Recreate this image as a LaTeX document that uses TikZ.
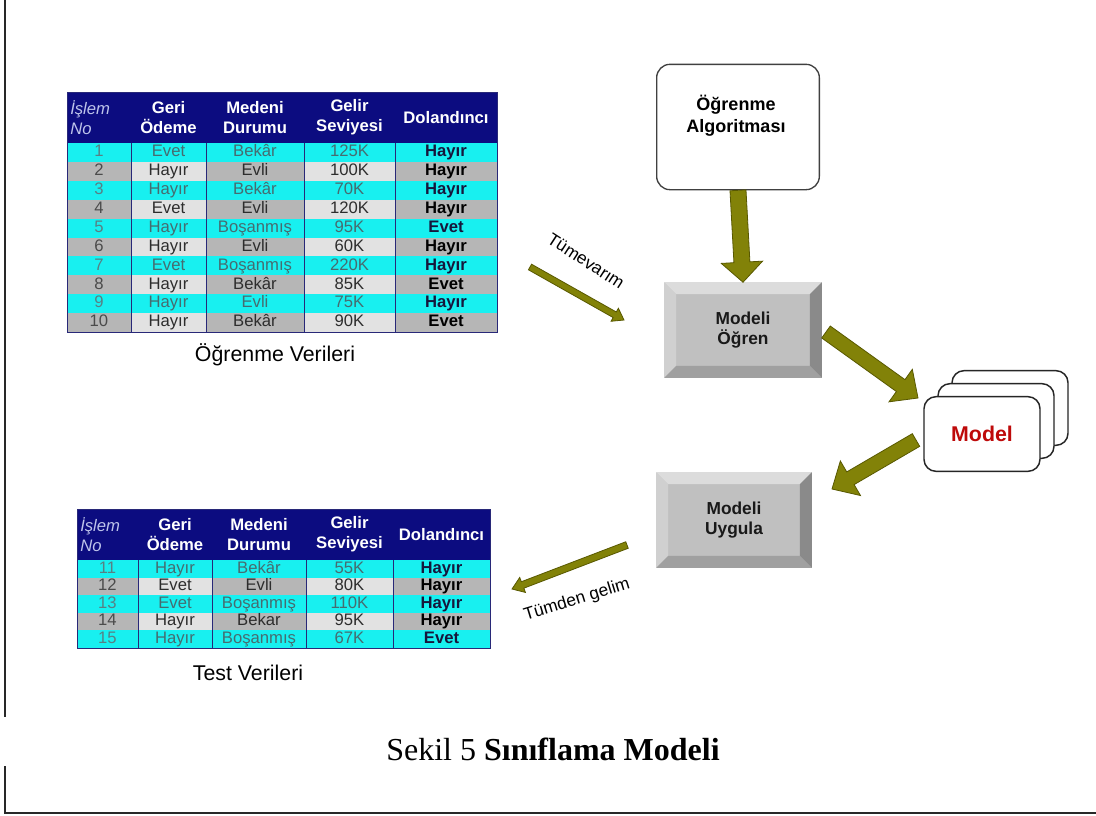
\documentclass[tikz,border=0pt]{standalone}
\usepackage{fontspec}
\setmainfont{Liberation Serif}
\newfontfamily\arial{Liberation Sans}
\usetikzlibrary{calc}

\definecolor{navyhead}{RGB}{12,12,128}
\definecolor{rulenavy}{RGB}{40,40,120}
\definecolor{cyanrow}{RGB}{24,240,240}
\definecolor{graydk}{RGB}{182,182,182}
\definecolor{graylt}{RGB}{226,226,226}
\definecolor{txtcyan}{RGB}{70,108,112}
\definecolor{numcyan}{RGB}{88,128,132}
\definecolor{boldcyan}{RGB}{22,22,60}
\definecolor{txtgray}{RGB}{45,45,45}
\definecolor{numgray}{RGB}{75,75,75}
\definecolor{headital}{RGB}{190,196,235}
\definecolor{olivefill}{RGB}{130,130,8}
\definecolor{olivedraw}{RGB}{88,88,0}
\definecolor{modelred}{RGB}{190,10,10}
\definecolor{bevtop}{RGB}{220,220,220}
\definecolor{bevleft}{RGB}{208,208,208}
\definecolor{bevface}{RGB}{192,192,192}
\definecolor{bevright}{RGB}{138,138,138}
\definecolor{bevbot}{RGB}{160,160,160}
\definecolor{framegray}{RGB}{40,40,40}

% table with navy header, alternating cyan / grey rows
\newcommand\datatable[2]{%
  \pgfmathsetmacro\cxA{(\colA+\colB)/2}%
  \pgfmathsetmacro\cxB{(\colB+\colC)/2}%
  \pgfmathsetmacro\cxC{(\colC+\colD)/2}%
  \pgfmathsetmacro\cxD{(\colD+\colE)/2}%
  \pgfmathsetmacro\cxE{(\colE+\colF)/2}%
  \pgfmathsetmacro\yhm{(\ytop+\yhead)/2}%
  \fill[navyhead] (\colA,\ytop) rectangle (\colF,\yhead);
  \node[hdital] (#1-h1) at (\colA+3,\yhm) {İşlem\\No};
  \node[hdtext] (#1-h2) at (\cxB,\yhm) {Geri\\Ödeme};
  \node[hdtext] (#1-h3) at (\cxC,\yhm) {Medeni\\Durumu};
  \node[hdtext] (#1-h4) at (\cxD,\yhm) {Gelir\\Seviyesi};
  \node[hdtext] (#1-h5) at (\cxE,\yhm) {Dolandıncı};
  \foreach \vA/\vB/\vC/\vD/\vE [count=\i] in {#2} {
    \pgfmathsetmacro\ya{\yhead+(\i-1)*\rh}
    \pgfmathsetmacro\yb{\ya+\rh}
    \pgfmathsetmacro\ym{\ya+\rh/2}
    \ifodd\i\relax
      \fill[cyanrow] (\colA,\ya) rectangle (\colF,\yb);
      \def\tnum{numcyan}\def\tcol{txtcyan}\def\tbold{boldcyan}
    \else
      \fill[graydk] (\colA,\ya) rectangle (\colB,\yb);
      \fill[graylt] (\colB,\ya) rectangle (\colC,\yb);
      \fill[graydk] (\colC,\ya) rectangle (\colD,\yb);
      \fill[graylt] (\colD,\ya) rectangle (\colE,\yb);
      \fill[graydk] (\colE,\ya) rectangle (\colF,\yb);
      \def\tnum{numgray}\def\tcol{txtgray}\def\tbold{black}
    \fi
    \node[cell,text=\tnum] (#1-\i-1) at (\cxA,\ym) {\vA};
    \node[cell,text=\tcol] (#1-\i-2) at (\cxB,\ym) {\vB};
    \node[cell,text=\tcol] (#1-\i-3) at (\cxC,\ym) {\vC};
    \node[cell,text=\tcol] (#1-\i-4) at (\cxD,\ym) {\vD};
    \node[cellbold,text=\tbold] (#1-\i-5) at (\cxE,\ym) {\vE};
  }
  \foreach \xx in {\colB,\colC,\colD,\colE}
    \draw[rulenavy] (\xx,\yhead) -- (\xx,\ybot);
  \draw[rulenavy] (\colA,\ytop) rectangle (\colF,\ybot);
}

% bevelled grey button: name, centre x, centre y, width, height, text
\newcommand\bevelbox[6]{%
  \node[bevnode, minimum width={#4*0.75pt}, minimum height={#5*0.75pt}] (#1) at (#2,#3) {#6};
  \fill[bevtop] (#1.north west) -- (#1.north east) -- ($(#1.north east)+(-12,12)$) -- ($(#1.north west)+(12,12)$) -- cycle;
  \fill[bevleft] (#1.north west) -- ($(#1.north west)+(12,12)$) -- ($(#1.south west)+(12,-12)$) -- (#1.south west) -- cycle;
  \fill[bevright] (#1.north east) -- (#1.south east) -- ($(#1.south east)+(-12,-12)$) -- ($(#1.north east)+(-12,12)$) -- cycle;
  \fill[bevbot] (#1.south west) -- (#1.south east) -- ($(#1.south east)+(-12,-12)$) -- ($(#1.south west)+(12,-12)$) -- cycle;
}

% olive block arrow: from, to, shaft half width, head half width, head length
\newcommand\blockarrow[5]{%
  \coordinate (bah) at ($(#2)!#5!(#1)$);
  \draw[blockarr] ($(#1)!#3!90:(#2)$) -- ($(bah)!#3!90:(#2)$) -- ($(bah)!#4!90:(#2)$)
    -- (#2) -- ($(bah)!#4!-90:(#2)$) -- ($(bah)!#3!-90:(#2)$) -- ($(#1)!#3!-90:(#2)$) -- cycle;
}

\begin{document}
\begin{tikzpicture}[x=0.75pt,y=-0.75pt,
  cell/.style={font=\arial\fontsize{12.5}{14}\selectfont, inner sep=0pt, text height=8.9pt, text depth=2.5pt},
  cellbold/.style={cell, font=\arial\bfseries\fontsize{12.5}{14}\selectfont},
  hdtext/.style={font=\arial\bfseries\fontsize{12.5}{15}\selectfont, text=white, align=center, inner sep=0pt},
  hdital/.style={font=\arial\itshape\fontsize{12.5}{15}\selectfont, text=headital, align=left, anchor=west, inner sep=0pt},
  tabcap/.style={font=\arial\fontsize{16}{19}\selectfont},
  bevnode/.style={fill=bevface, inner sep=0pt, font=\arial\bfseries\fontsize{13}{15}\selectfont, text=black!90, align=center},
  blockarr/.style={fill=olivefill, draw=olivedraw, line width=0.6pt, line join=miter},
  card/.style={draw=black!85, line width=1.1pt, fill=white, rounded corners=9pt, minimum width=87pt, minimum height=56pt, inner sep=0pt},
  arrlabel/.style={font=\arial\fontsize{13}{15}\selectfont},
  frame/.style={draw=framegray, line width=1.6pt}
]
\useasboundingbox (0,0) rectangle (1096,815);
\fill[white] (0,0) rectangle (1096,815);

% page frame
\draw[frame] (5,0) -- (5,717);
\draw[frame] (5,766) -- (5,813) -- (1096,813);

% training data
\def\colA{67}\def\colB{131}\def\colC{206}\def\colD{304}\def\colE{395}\def\colF{497}
\def\ytop{92}\def\yhead{143}\def\rh{18.9}\pgfmathsetmacro\ybot{\yhead+10*\rh}
\datatable{tr}{1/Evet/Bekâr/125K/Hayır, 2/Hayır/Evli/100K/Hayır, 3/Hayır/Bekâr/70K/Hayır,
  4/Evet/Evli/120K/Hayır, 5/Hayır/Boşanmış/95K/Evet, 6/Hayır/Evli/60K/Hayır,
  7/Evet/Boşanmış/220K/Hayır, 8/Hayır/Bekâr/85K/Evet, 9/Hayır/Evli/75K/Hayır,
  10/Hayır/Bekâr/90K/Evet}
\node[tabcap] (trcap) at (275,355) {Öğrenme Verileri};

% test data
\def\colA{77}\def\colB{138}\def\colC{212}\def\colD{306}\def\colE{393}\def\colF{490}
\def\ytop{509}\def\yhead{560}\def\rh{17.6}\pgfmathsetmacro\ybot{\yhead+5*\rh}
\datatable{ts}{11/Hayır/Bekâr/55K/Hayır, 12/Evet/Evli/80K/Hayır, 13/Evet/Boşanmış/110K/Hayır,
  14/Hayır/Bekar/95K/Hayır, 15/Hayır/Boşanmış/67K/Evet}
\node[tabcap] (tscap) at (248,673) {Test Verileri};

% learning algorithm
\node[draw=black!75, line width=1pt, fill=white, rounded corners=10pt,
      minimum width=122pt, minimum height=94pt] (algo) at (738,127) {};
\node[font=\arial\bfseries\fontsize{13.5}{16.5}\selectfont, align=center] (algotext) at (736,116) {Öğrenme\\Algoritması};

% learn / apply steps
\bevelbox{learn}{743}{330}{157}{95}{Modeli\\Öğren}
\bevelbox{apply}{734}{520}{155}{95}{Modeli\\Uygula}

% stacked model cards
\node[card] (card3) at (1010,408) {};
\node[card] (card2) at (996,421) {};
\node[card, font=\arial\bfseries\fontsize{16}{19}\selectfont, text=modelred] (model) at (982,434) {Model};

% arrows
\blockarrow{algo.south}{learn.north}{6pt}{15.5pt}{15pt}
\coordinate (la) at (826,332);
\coordinate (lb) at (918,398);
\blockarrow{la}{lb}{5.5pt}{15pt}{16pt}
\coordinate (ma) at (916,440);
\coordinate (mb) at (832,489);
\blockarrow{ma}{mb}{5.5pt}{15pt}{16pt}
\coordinate (ia) at (530,267);
\coordinate (ib) at (624,320);
\blockarrow{ia}{ib}{2.4pt}{5.6pt}{8pt}
\node[arrlabel, rotate=-33] (indlabel) at (586,261) {Tümevarım};
\coordinate (da) at (627,545);
\coordinate (db) at (512,589);
\blockarrow{da}{db}{2.6pt}{6pt}{8.5pt}
\node[arrlabel, rotate=17] (dedlabel) at (577,600) {Tümden gelim};

% caption
\node[font=\fontsize{24}{28}\selectfont] (caption) at (553,749) {Sekil 5 \textbf{Sınıflama Modeli}};
\end{tikzpicture}
\end{document}
